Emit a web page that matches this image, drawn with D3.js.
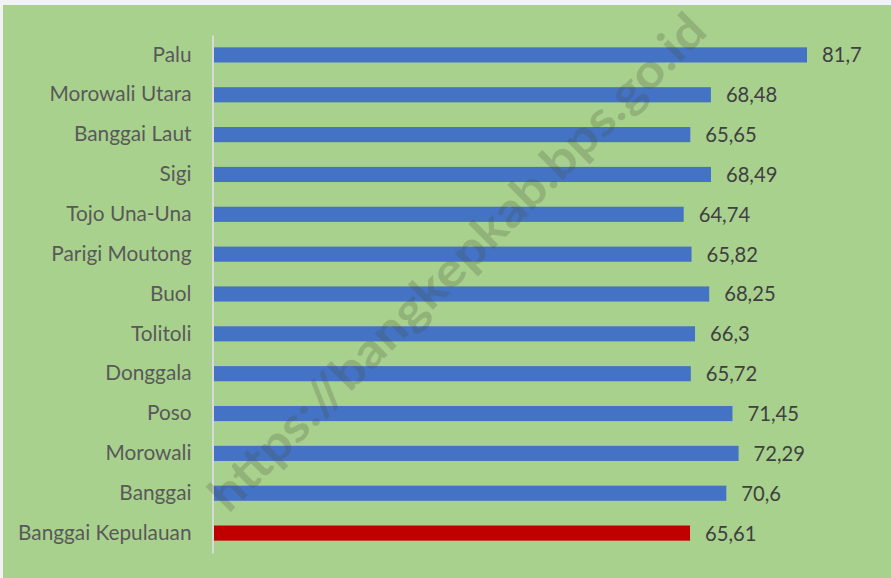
<!DOCTYPE html>
<html>
<head>
<meta charset="utf-8">
<script src="https://cdn.jsdelivr.net/npm/d3@7"></script>
<style>
  html, body { margin: 0; padding: 0; background: #ececec; }
  svg { display: block; }
</style>
</head>
<body>
<div id="chart"></div>
<script>
const regions = ["Palu", "Morowali Utara", "Banggai Laut", "Sigi", "Tojo Una-Una", "Parigi Moutong",
  "Buol", "Tolitoli", "Donggala", "Poso", "Morowali", "Banggai", "Banggai Kepulauan"];
const values = [81.7, 68.48, 65.65, 68.49, 64.74, 65.82, 68.25, 66.3, 65.72, 71.45, 72.29, 70.6, 65.61];
const highlight = "Banggai Kepulauan";

const data = regions.map((r, i) => ({region: r, value: values[i]}));

const W = 891, H = 578;
const margin = {left: 213, right: 84, top: 35, bottom: 25};

let svg = d3.select("#chart").append("svg")
    .attr("width", W)
    .attr("height", H);

// chart area background with thin light frame top/left
svg.append("rect")
    .attr("width", W).attr("height", H)
    .attr("fill", "#f2f2f2");
svg.append("rect")
    .attr("x", 3).attr("y", 5)
    .attr("width", W - 3).attr("height", H - 5)
    .attr("fill", "#a9d18e");

let x = d3.scaleLinear()
    .domain([0, d3.max(values)])
    .range([margin.left, W - margin.right]);

let y = d3.scaleBand()
    .domain(regions)
    .range([margin.top, H - margin.bottom])
    .paddingInner(0.62)
    .paddingOuter(0.31);

let g = svg.append("g");

g.selectAll("rect.bar")
    .data(data)
    .enter()
    .append("rect")
    .attr("class", "bar")
    .attr("x", x(0))
    .attr("y", d => y(d.region))
    .attr("width", d => x(d.value) - x(0))
    .attr("height", y.bandwidth())
    .attr("fill", d => d.region === highlight ? "#c00000" : "#4472c4");

// category axis
let yAxis = d3.axisLeft(y).tickSize(0).tickPadding(21);
let ya = g.append("g")
    .attr("transform", "translate(" + (margin.left - 0.5) + ",0)")
    .call(yAxis);
ya.select(".domain")
    .attr("stroke", "#d9d9d9")
    .attr("stroke-width", 2);
ya.selectAll("text")
    .attr("font-family", "Lato, 'Open Sans', sans-serif")
    .attr("font-size", "20.8px")
    .attr("fill", "#595959");

// value labels
g.selectAll("text.val")
    .data(data)
    .enter()
    .append("text")
    .attr("class", "val")
    .attr("x", d => x(d.value) + 15)
    .attr("y", d => y(d.region) + y.bandwidth() / 2)
    .attr("dy", "0.37em")
    .attr("font-family", "Lato, 'Open Sans', sans-serif")
    .attr("font-size", "20.2px")
    .attr("fill", "#404040")
    .text(d => String(d.value).replace(".", ","));

// watermark
svg.append("text")
    .attr("transform", "translate(457,262) rotate(-45)")
    .attr("text-anchor", "middle")
    .attr("dy", "0.35em")
    .attr("font-family", "Lato, 'Open Sans', sans-serif")
    .attr("font-weight", "bold")
    .attr("font-size", "48px")
    .attr("textLength", 680)
    .attr("lengthAdjust", "spacingAndGlyphs")
    .attr("fill", "rgba(70,85,60,0.24)")
    .text("https://bangkepkab.bps.go.id");
</script>
</body>
</html>
